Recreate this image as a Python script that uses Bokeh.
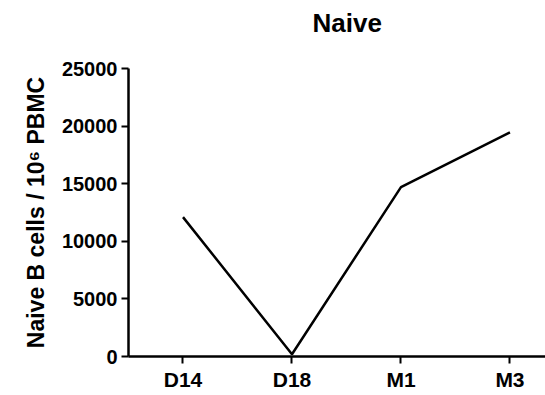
from bokeh.plotting import figure
from bokeh.models import Range1d, FixedTicker, ColumnDataSource, Title
from bokeh.embed import file_html
from bokeh.resources import INLINE

categories = ["D14", "D18", "M1", "M3"]
values = [12100, 200, 14700, 19450]
y_ticks = [0, 5000, 10000, 15000, 20000, 25000]
title_text = "Naive"

xs = list(range(len(categories)))
src = ColumnDataSource(dict(x=xs, y=values))

p = figure(width=545, height=395, output_backend="svg", toolbar_location=None,
           x_range=Range1d(-0.5, 3.326), y_range=Range1d(0, 25000),
           min_border_left=128, min_border_right=0, min_border_top=67,
           min_border_bottom=39)
p.line("x", "y", source=src, line_color="black", line_width=2.5)

FONT = "Liberation Sans"
spacer = Title(text=" ", text_font_size="12px")
p.add_layout(spacer, "above")
t = Title(text=title_text, text_font=FONT, text_font_size="26px",
          text_font_style="bold", text_color="black", align="left", offset=184)
p.add_layout(t, "above")

p.grid.visible = False
p.outline_line_color = None

p.xaxis.ticker = FixedTicker(ticks=xs)
p.xaxis.major_label_overrides = {i: c for i, c in enumerate(categories)}
p.yaxis.ticker = FixedTicker(ticks=y_ticks)
p.yaxis.axis_label = "Naive B cells / 10\u2076 PBMC"

for ax in (p.xaxis, p.yaxis):
    ax.axis_line_width = 2.5
    ax.axis_line_color = "black"
    ax.major_tick_line_width = 2
    ax.major_tick_line_color = "black"
    ax.major_tick_in = 0
    ax.major_tick_out = 7
    ax.minor_tick_line_color = None
    ax.major_label_text_font = FONT
    ax.major_label_text_font_style = "bold"
    ax.major_label_text_color = "black"
    ax.axis_label_text_font = FONT
    ax.axis_label_text_font_style = "bold"
    ax.axis_label_text_color = "black"

p.xaxis.major_label_text_font_size = "21px"
p.yaxis.major_label_text_font_size = "20px"
p.yaxis.axis_label_text_font_size = "23px"
p.yaxis.axis_label_standoff = 10
p.yaxis.major_label_standoff = 4
p.xaxis.major_label_standoff = 4

open("out.html", "w").write(file_html(p, INLINE))
